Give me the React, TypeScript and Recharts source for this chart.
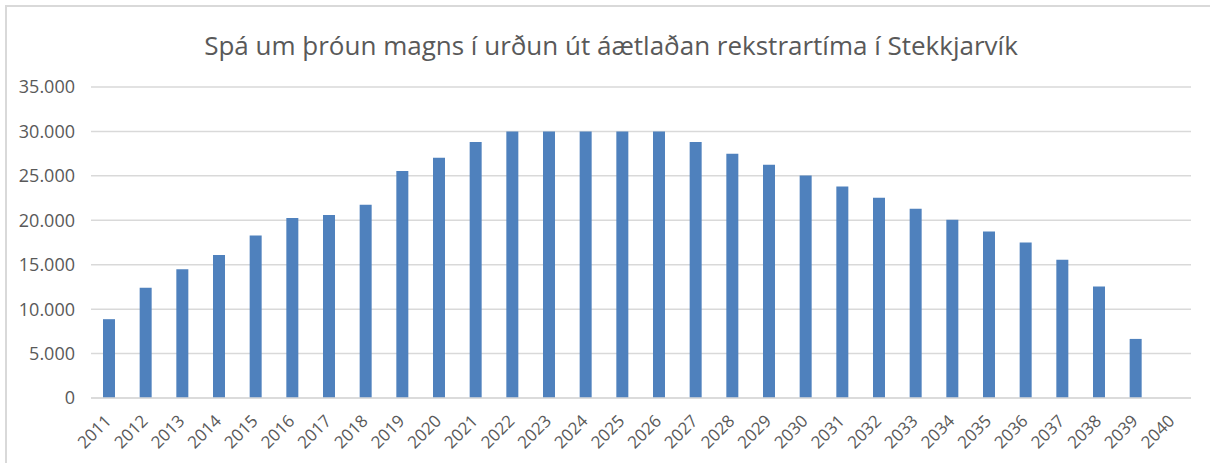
import { BarChart, Bar, XAxis, YAxis, CartesianGrid } from 'recharts';

const TITLE = 'Spá um þróun magns í urðun út áætlaðan rekstrartíma í Stekkjarvík';

const YEARS = [
  '2011', '2012', '2013', '2014', '2015', '2016', '2017', '2018', '2019', '2020',
  '2021', '2022', '2023', '2024', '2025', '2026', '2027', '2028', '2029', '2030',
  '2031', '2032', '2033', '2034', '2035', '2036', '2037', '2038', '2039', '2040',
];

const TONS = [
  8870, 12400, 14500, 16100, 18300, 20250, 20600, 21750, 25550, 27050,
  28800, 30000, 30000, 30000, 30000, 30000, 28800, 27500, 26250, 25050,
  23800, 22550, 21300, 20050, 18750, 17500, 15550, 12550, 6650, 0,
];

const Y_TICKS = [0, 5000, 10000, 15000, 20000, 25000, 30000, 35000];

const FONT = '"Open Sans", "Noto Sans", sans-serif';
const TEXT_COLOR = '#595959';
const GRID_COLOR = '#d9d9d9';
const BAR_COLOR = '#4f81bd';

const chartData = YEARS.map((year, i) => ({ year, value: TONS[i] }));

// 35000 -> "35.000"
function formatThousands(v: number): string {
  return String(v).replace(/\B(?=(\d{3})+(?!\d))/g, '.');
}

function YearTick({ x, y, payload }: { x?: number; y?: number; payload?: { value: string } }) {
  const px = (x ?? 0) + 3;
  const py = (y ?? 0) + 16;
  return (
    <text
      x={px}
      y={py}
      transform={`rotate(-45, ${px}, ${py})`}
      textAnchor="end"
      fill={TEXT_COLOR}
      fontSize={17}
      fontFamily={FONT}
    >
      {payload?.value}
    </text>
  );
}

export default function App() {
  return (
    <div
      style={{
        position: 'absolute',
        left: 0,
        top: 0,
        width: 1210,
        height: 463,
        background: '#fff',
        overflow: 'hidden',
      }}
    >
      <div
        style={{
          position: 'absolute',
          left: 5,
          top: 5,
          width: 1230,
          height: 480,
          border: `2px solid ${GRID_COLOR}`,
        }}
      />
      <div
        style={{
          position: 'absolute',
          left: 0,
          top: 28,
          width: 1222,
          textAlign: 'center',
          fontFamily: FONT,
          fontSize: 26,
          color: TEXT_COLOR,
          lineHeight: '34px',
        }}
      >
        {TITLE}
      </div>
      <BarChart
        width={1210}
        height={463}
        data={chartData}
        margin={{ top: 87, right: 19, left: 11, bottom: 10 }}
        barSize={12}
        style={{ position: 'absolute', left: 0, top: 0 }}
      >
        <CartesianGrid vertical={false} stroke={GRID_COLOR} strokeWidth={1.5} />
        <XAxis
          dataKey="year"
          interval={0}
          height={55}
          tickLine={false}
          axisLine={{ stroke: GRID_COLOR, strokeWidth: 1.5 }}
          tick={<YearTick />}
        />
        <YAxis
          width={80}
          domain={[0, 35000]}
          ticks={Y_TICKS}
          tickFormatter={formatThousands}
          tickLine={false}
          axisLine={false}
          tickMargin={10}
          tick={{ fill: TEXT_COLOR, fontSize: 18, fontFamily: FONT }}
        />
        <Bar dataKey="value" fill={BAR_COLOR} isAnimationActive={false} />
      </BarChart>
    </div>
  );
}
